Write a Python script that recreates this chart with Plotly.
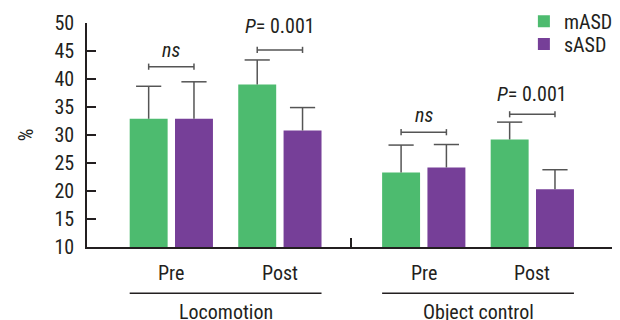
import plotly.graph_objects as go

groups = ["Locomotion", "Object control"]
phases = ["Pre", "Post"]
series = ["mASD", "sASD"]
colors = {"mASD": "#4dbb6f", "sASD": "#763f98"}
# values in order: Loco Pre, Loco Post, OC Pre, OC Post
means = {
    "mASD": [32.9, 39.0, 23.3, 29.2],
    "sASD": [32.9, 30.8, 24.2, 20.3],
}
sds = {
    "mASD": [5.8, 4.4, 4.9, 3.1],
    "sASD": [6.6, 4.1, 4.1, 3.5],
}
sig_labels = ["ns", "P", "ns", "P"]
sig_level = [42.2, 45.2, 30.5, 33.7]
y_ticks = [10, 15, 20, 25, 30, 35, 40, 45, 50]

FONT = "Roboto Condensed, Liberation Sans, sans-serif"
TXT = "#231f20"
ERR = "#555555"
FS = 20

# The page body has an 8px margin: figure is 612x312 so it fills the 620x320 window.
W, H = 612, 312
ML, MT, MB = 79, 15, 73
MR = 6

# layout positions on a 0..10 x scale
def cat_pos(g, p):
    return 1.6 + g * 4.79 + p * 2.06

cats = [(g, p) for g in range(len(groups)) for p in range(len(phases))]
centers = [cat_pos(g, p) for g, p in cats]
off = 0.43
bw = 0.72

fig = go.Figure()
for i, s in enumerate(series):
    sign = -1 if i == 0 else 1
    xs = [c + sign * off for c in centers]
    fig.add_trace(go.Bar(
        x=xs, y=[m - 10 for m in means[s]], base=10,
        width=bw, name=s, marker=dict(color=colors[s], line=dict(width=0)),
        error_y=dict(type="data", symmetric=False, array=sds[s],
                     arrayminus=[0] * len(sds[s]), color=ERR,
                     thickness=1.5, width=0),
        legend="legend" if i == 0 else "legend2",
        hoverinfo="skip",
    ))
for i, s in enumerate(series):
    sign = -1 if i == 0 else 1
    xs = [c + sign * off for c in centers]
    fig.add_trace(go.Scatter(
        x=xs, y=[m + e for m, e in zip(means[s], sds[s])], mode="markers",
        marker=dict(symbol="line-ew", size=18, line=dict(color=ERR, width=1.5)),
        showlegend=False, hoverinfo="skip",
    ))

shapes = []
annotations = []
yshifts = [3, 10, 3, 6]
for k, c in enumerate(centers):
    x0, x1 = c - off, c + off
    yl = sig_level[k]
    line = dict(color=ERR, width=1.5)
    shapes.append(dict(type="line", xref="x", yref="y", x0=x0, x1=x1, y0=yl, y1=yl, line=line))
    for xe in (x0, x1):
        shapes.append(dict(type="line", xref="x", yref="y", x0=xe, x1=xe,
                           y0=yl - 0.55, y1=yl + 0.55, line=line))
    if sig_labels[k] == "ns":
        txt = "<i>ns</i>"
    else:
        txt = "<i>P</i>= 0.001"
    annotations.append(dict(x=c, y=yl, xref="x", yref="y", text=txt, showarrow=False,
                            yanchor="bottom", yshift=yshifts[k],
                            font=dict(family=FONT, size=FS, color=TXT)))
    annotations.append(dict(x=c, y=-0.117, xref="x", yref="paper", text=phases[cats[k][1]],
                            showarrow=False, yanchor="middle",
                            font=dict(family=FONT, size=FS, color=TXT)))

for g in range(len(groups)):
    xa = cat_pos(g, 0) - off - bw / 2
    xb = cat_pos(g, len(phases) - 1) + off + bw / 2
    shapes.append(dict(type="line", xref="x", yref="paper", x0=xa, x1=xb,
                       y0=-0.207, y1=-0.207, line=dict(color=TXT, width=1.5)))
    annotations.append(dict(x=(xa + xb) / 2, y=-0.29, xref="x", yref="paper", text=groups[g],
                            showarrow=False, yanchor="middle",
                            font=dict(family=FONT, size=FS, color=TXT)))

leg_common = dict(xanchor="left", yanchor="top", font=dict(family=FONT, size=FS, color=TXT),
                  bgcolor="rgba(0,0,0,0)", itemwidth=30)

fig.update_layout(
    width=W, height=H,
    margin=dict(l=ML, r=MR, t=MT, b=MB, autoexpand=False),
    paper_bgcolor="white", plot_bgcolor="white",
    barmode="overlay",
    font=dict(family=FONT, size=FS, color=TXT),
    shapes=shapes, annotations=annotations,
    legend=dict(x=0.829, y=1.095, **leg_common),
    legend2=dict(x=0.829, y=0.993, **leg_common),
    xaxis=dict(range=[0, 10], showline=True, linecolor=TXT, linewidth=1.5,
               ticks="inside", ticklen=9, tickcolor=TXT, tickwidth=1.5,
               tickvals=[5, 10], showticklabels=False, showgrid=False, zeroline=False,
               automargin=False),
    yaxis=dict(range=[10, 50], showline=True, linecolor=TXT, linewidth=1.5,
               ticks="inside", ticklen=9, tickcolor=TXT, tickwidth=1.5,
               tickvals=y_ticks, showgrid=False, zeroline=False, ticklabelstandoff=7,
               automargin=False,
               title=dict(text="%", standoff=16, font=dict(family=FONT, size=FS, color=TXT)),
               tickfont=dict(family=FONT, size=FS, color=TXT)),
    showlegend=True,
)

fig.write_html("out.html")
